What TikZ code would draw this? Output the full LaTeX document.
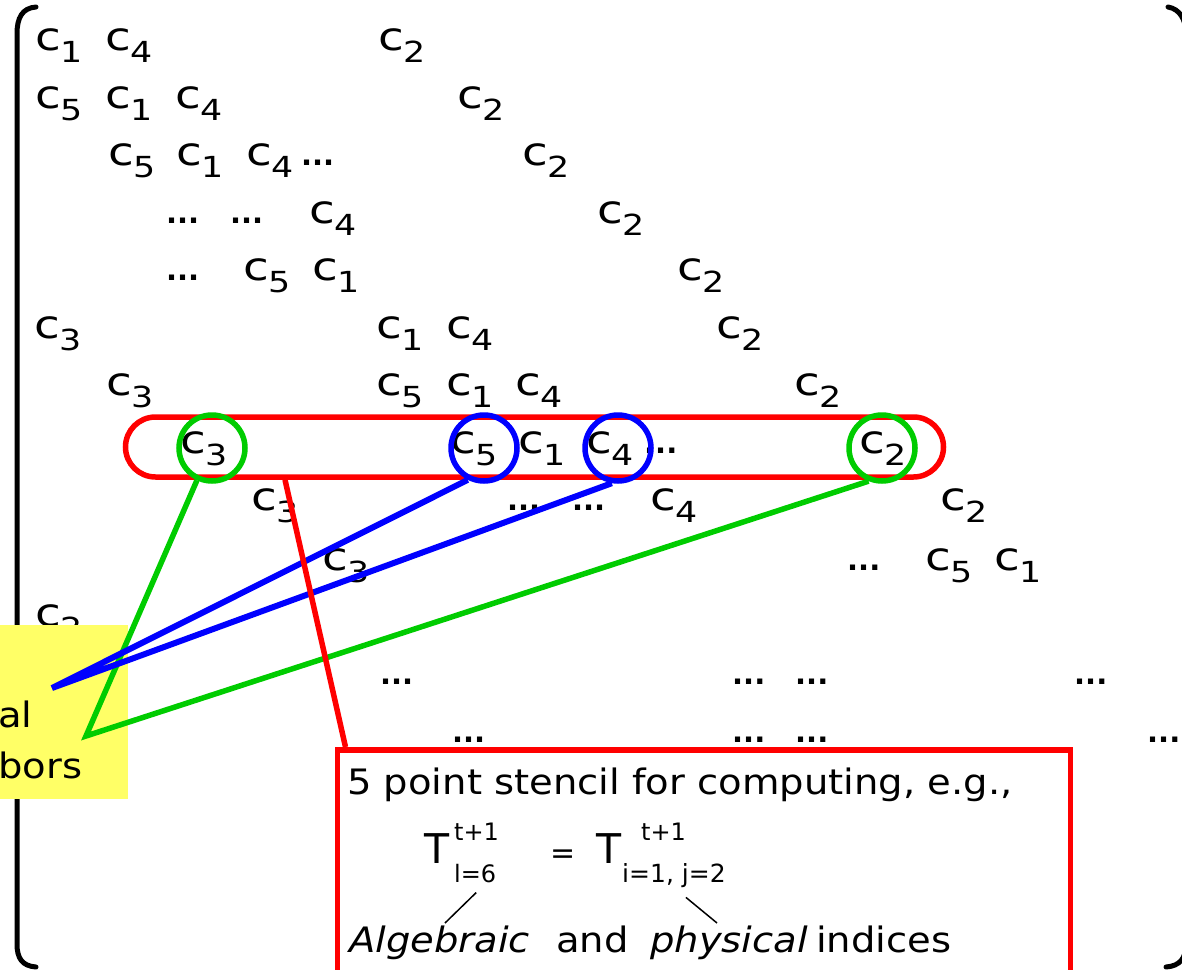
\documentclass[tikz,border=0pt]{standalone}
\usepackage{fontspec}
\setmainfont{DejaVu Sans}
\newfontfamily\widef{DejaVu Sans}[FakeStretch=1.1]
\newfontfamily\matf{DejaVu Sans}[FakeStretch=1.2]
\definecolor{pgreen}{RGB}{0,204,0}
\definecolor{pblue}{RGB}{0,0,255}
\definecolor{pred}{RGB}{255,0,0}
\definecolor{pyellow}{RGB}{255,255,102}
\newcommand\ce[1]{c\raisebox{-12pt}{\fontsize{29}{29}\selectfont #1}}
\newcommand\dts{{\normalfont\bfseries\fontsize{29}{29}\selectfont ...}}
\begin{document}
\begin{tikzpicture}[x=1pt,y=-1pt,
  entry/.style={anchor=base west,inner sep=0pt,font=\matf\fontsize{39}{39}\selectfont},
  ring/.style={circle,draw,line width=5.5pt,minimum size=66pt,inner sep=0pt},
  link/.style={line width=5.5pt},
  stxt/.style={anchor=base west,inner sep=0pt,font=\widef\fontsize{35}{35}\selectfont},
  eqbig/.style={anchor=base west,inner sep=0pt,font=\fontsize{41}{41}\selectfont},
  eqsmall/.style={anchor=base west,inner sep=0pt,font=\fontsize{24}{24}\selectfont},
  bracket/.style={line width=5pt,line cap=round}]
\useasboundingbox (0,0) rectangle (1182,969);
\clip (0,0) rectangle (1182,969);
% matrix entries
\foreach \x/\y/\t [count=\i] in {
  35/50/{\ce1}, 105/50/{\ce4}, 378/50/{\ce2},
  35/108/{\ce5}, 105/108/{\ce1}, 175/108/{\ce4}, 457/108/{\ce2},
  108/165/{\ce5}, 176/165/{\ce1}, 246/165/{\ce4}, 301/165/{\dts}, 522/165/{\ce2},
  166/223/{\dts}, 230/223/{\dts}, 309/223/{\ce4}, 597/223/{\ce2},
  166/280/{\dts}, 243/280/{\ce5}, 312/280/{\ce1}, 677/280/{\ce2},
  34/338/{\ce3}, 376/338/{\ce1}, 446/338/{\ce4}, 716/338/{\ce2},
  106/395/{\ce3}, 376/395/{\ce5}, 446/395/{\ce1}, 515/395/{\ce4}, 794/395/{\ce2},
  180/453/{\ce3}, 450/453/{\ce5}, 518/453/{\ce1}, 586/453/{\ce4}, 644/453/{\dts}, 859/453/{\ce2},
  251/510/{\ce3}, 507/510/{\dts}, 572/510/{\dts}, 650/510/{\ce4}, 940/510/{\ce2},
  322/570/{\ce3}, 847/570/{\dts}, 925/570/{\ce5}, 994/570/{\ce1},
  35/626/{\ce2},
  380/684/{\dts}, 732/684/{\dts}, 795/684/{\dts}, 1074/684/{\dts},
  452/742/{\dts}, 732/742/{\dts}, 795/742/{\dts}, 1147/742/{\dts}}
  \node[entry] (e\i) at (\x,\y) {\t};
% brackets
\draw[bracket] (36,7) .. controls (22,8) and (17,18) .. (17,34) -- (17,944) .. controls (17,958) and (22,966) .. (36,967);
\draw[bracket] (1168,7) .. controls (1180,9) and (1186,20) .. (1186,34) -- (1186,944) .. controls (1186,958) and (1180,966) .. (1166,967);
% highlighted row
\node[draw=pred,line width=5.5pt,rounded corners=30pt,minimum width=818pt,minimum height=60pt,inner sep=0pt] (rowbox) at (534.5,447) {};
\node[ring,draw=pgreen] (gc3) at (212,448) {};
\node[ring,draw=pblue] (bc5) at (484,448) {};
\node[ring,draw=pblue] (bc4) at (618,448) {};
\node[ring,draw=pgreen] (gc2) at (882,448) {};
% yellow label
\node[fill=pyellow,anchor=north west,minimum width=128pt,minimum height=174pt,inner sep=0pt] (ylab) at (0,625) {};
\node[stxt] (yl1) at (-2,727) {al};
\node[stxt] (yl2) at (-2,778) {bors};
\coordinate (blueend) at (52,688);
\coordinate (greenend) at (86,736);
% stencil box
\node[draw=pred,fill=white,line width=5.5pt,anchor=north west,minimum width=733pt,minimum height=260pt,inner sep=0pt] (stencil) at (334.5,747) {};
% connectors
\draw[link,pgreen,line join=miter] (gc3.-115) -- (greenend) -- (gc2.-112);
\draw[link,pblue,line width=6pt,line join=miter] (bc5.-117) -- (blueend) -- (bc4.-100);
\draw[link,pred] ([xshift=-249.5pt]rowbox.south) -- ([xshift=11pt]stencil.north west);
% stencil text
\node[stxt] (s1) at (347,794) {5 point stencil for computing, e.g.,};
\node[eqbig] (t1) at (424,863) {T};
\node[eqsmall] (t1sup) at (454,840) {t+1};
\node[eqsmall] (t1sub) at (454,882) {l=6};
\node[anchor=base west,inner sep=0pt,font=\fontsize{30}{30}\selectfont] (eqs) at (550,863) {=};
\node[eqbig] (t2) at (596,863) {T};
\node[eqsmall] (t2sup) at (641,840) {t+1};
\node[eqsmall,font=\fontsize{25}{25}\selectfont] (t2sub) at (622,882) {i=1, j=2};
\node[stxt] (alg) at (349,952) {\itshape Algebraic};
\node[stxt] (and) at (556,952) {and};
\node[stxt] (phy) at (650,952) {\itshape physical};
\node[stxt] (ind) at (816,952) {indices};
\coordinate (alga) at (445,923);
\coordinate (phya) at (717,923);
\draw[line width=1.5pt] (t1sub.south) ++(1,10) -- (alga);
\draw[line width=1.5pt] ([xshift=12pt]t2sub.south) ++(0,10) -- (phya);
\end{tikzpicture}
\end{document}
